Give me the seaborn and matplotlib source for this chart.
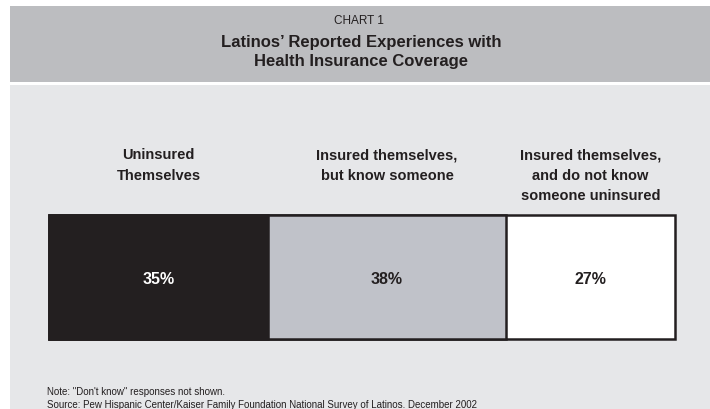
import matplotlib
matplotlib.use("Agg")
import matplotlib.pyplot as plt
import seaborn as sns
import pandas as pd
from matplotlib.patches import Rectangle

# chart data
categories = ["Uninsured\nThemselves",
              "Insured themselves,\nbut know someone",
              "Insured themselves,\nand do not know\nsomeone uninsured"]
shares = [35, 38, 27]
value_labels = ["35%", "38%", "27%"]
colors = ["#231f20", "#c0c2c9", "#ffffff"]

title_small = "CHART 1"
title_main = "Latinos\u2019 Reported Experiences with\nHealth Insurance Coverage"
note_lines = ["Note: \"Don't know\" responses not shown.",
              "Source: Pew Hispanic Center/Kaiser Family Foundation National Survey of Latinos. December 2002"]

FONT = ["Liberation Sans", "DejaVu Sans"]
INK = "#231f20"

sns.set_theme(style="white")
plt.rcParams["font.family"] = FONT

W, H = 710, 410
fig = plt.figure(figsize=(W / 100, H / 100), dpi=100)
fig.patch.set_facecolor("white")


def fx(px):
    return px / W


def fy(py):
    return 1 - py / H


# background boxes (behind the axes)
fig.patches.append(Rectangle((fx(10), fy(83)), fx(700), (83 - 7) / H,
                             transform=fig.transFigure, facecolor="#bcbdc0",
                             edgecolor="none", zorder=-10))
fig.patches.append(Rectangle((fx(10), 0), fx(700), (H - 86) / H,
                             transform=fig.transFigure, facecolor="#e6e7e9",
                             edgecolor="none", zorder=-10))

fig.text(fx(359), fy(20.5), title_small, ha="center", va="center",
         fontsize=8.5, color=INK)
fig.text(fx(361), fy(52), title_main, ha="center", va="center",
         fontsize=12, fontweight="bold", color=INK, linespacing=1.35)

# stacked bar
left, right = 49, 675
top, bottom = 216, 340
ax = fig.add_axes([fx(left), fy(bottom), fx(right - left), (bottom - top) / H])

cum = pd.Series(shares).cumsum().tolist()
df = pd.DataFrame({"row": ["all"], "total": [0]})
for i in reversed(range(len(shares))):
    df["total"] = cum[i]
    sns.barplot(data=df, x="total", y="row", orient="h", ax=ax,
                color=colors[i], saturation=1, width=1,
                edgecolor=INK, linewidth=1.8)

for p in ax.patches:
    p.set_clip_on(False)

ax.set_xlim(0, 100)
ax.set_ylim(0.5, -0.5)
ax.axis("off")

starts = [0] + cum[:-1]
for i, (s, v) in enumerate(zip(starts, shares)):
    mid = s + v / 2
    ax.text(mid, 0.01, value_labels[i], ha="center", va="center",
            fontsize=11.5, fontweight="bold",
            color="white" if i == 0 else INK)
    xpix = left + (right - left) * mid / 100
    fig.text(fx(xpix), fy(148), categories[i], ha="center", va="top",
             fontsize=10.5, fontweight="bold", color=INK,
             linespacing=1.6)

fig.text(fx(47), fy(392), note_lines[0], ha="left", va="center",
         fontsize=7, color=INK)
fig.text(fx(47), fy(405), note_lines[1], ha="left", va="center",
         fontsize=7, color=INK)

fig.savefig("out.png", dpi=100)
